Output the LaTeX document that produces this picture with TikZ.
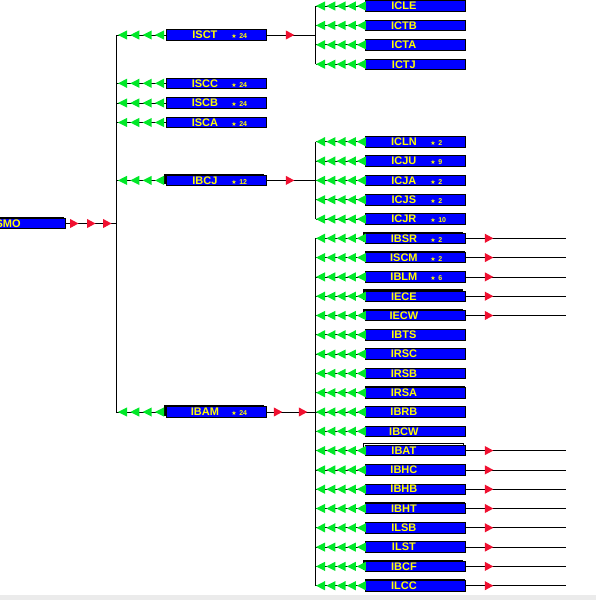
\documentclass[tikz,border=0pt]{standalone}
\usepackage{fontspec}
\setmainfont{Liberation Sans}
\newfontfamily\symfont{DejaVu Sans}
\usetikzlibrary{decorations.markings,shadows}
\definecolor{boxblue}{RGB}{0,0,255}
\definecolor{txtyellow}{RGB}{255,255,0}
\definecolor{arrgreen}{RGB}{0,232,40}
\definecolor{arrred}{RGB}{240,16,48}
\definecolor{bandgray}{RGB}{235,235,235}
\newcommand\gtri{\fill[arrgreen] (0pt,0pt) -- (9pt,4.6pt) -- (9pt,-4.6pt) -- cycle;}
\newcommand\rtri{\fill[arrred] (0pt,4.6pt) -- (8.5pt,0pt) -- (0pt,-4.6pt) -- cycle;}
\newcommand\st[1]{{\symfont\fontsize{6}{6}\selectfont ★}\hspace{2.5pt}{\fontsize{7}{7}\selectfont #1}}
\newcommand\bx[6][]{\node[box,#1] (#2) at (#3,#4) {\makebox[100pt][l]{\rlap{\hspace*{65pt}#6}\makebox[77pt]{#5}}};}
\tikzset{
  box/.style={draw=black, line width=0.8pt, fill=boxblue, inner sep=0pt, minimum height=10.5pt,
    text depth=0pt, text=txtyellow, font=\bfseries\fontsize{11}{11}\selectfont, anchor=west},
  plain/.style={},
  stk/.style={general shadow={fill=black, shadow xshift=-2pt, shadow yshift=1.5pt}},
  stkl/.style={general shadow={fill=black, shadow xshift=-0.5pt, shadow yshift=1pt}},
  hollow/.style={general shadow={fill=white, draw=black, line width=0.6pt, shadow xshift=-2pt, shadow yshift=2.5pt}},
  link/.style={draw=black, line width=0.8pt},
  green4/.style={link, postaction={decorate, decoration={markings,
    mark=at position 2pt with {\gtri}, mark=at position 14.3pt with {\gtri},
    mark=at position 26.7pt with {\gtri}, mark=at position 39pt with {\gtri}}}},
  green5/.style={link, postaction={decorate, decoration={markings,
    mark=at position 0.5pt with {\gtri}, mark=at position 10.8pt with {\gtri},
    mark=at position 21pt with {\gtri}, mark=at position 31.3pt with {\gtri},
    mark=at position 41.3pt with {\gtri}}}},
  red1/.style={link, postaction={decorate, decoration={markings,
    mark=at position 19pt with {\rtri}}}},
  red2/.style={link, postaction={decorate, decoration={markings,
    mark=at position 7pt with {\rtri}, mark=at position 32pt with {\rtri}}}},
  red3/.style={link, postaction={decorate, decoration={markings,
    mark=at position 4pt with {\rtri}, mark=at position 21pt with {\rtri},
    mark=at position 37pt with {\rtri}}}},
}
\begin{document}
\begin{tikzpicture}[x=1pt,y=-1pt]
\useasboundingbox (0,0) rectangle (596,600);
\clip (0,0) rectangle (596,600);
\fill[bandgray] (0,595) rectangle (596,600);
\coordinate (ta) at (116,0);
\coordinate (tb) at (315.5,0);
\coordinate (tc) at (566,0);
% root
\node[box,stk,anchor=east,minimum width=90pt] (root) at (66,223.5) {\makebox[90pt][l]{\hspace*{20pt}SMO}};
% level 1
\bx{isct}{166}{35}{ISCT}{\st{24}}
\bx{iscc}{166}{83.3}{ISCC}{\st{24}}
\bx{iscb}{166}{103}{ISCB}{\st{24}}
\bx{isca}{166}{122.5}{ISCA}{\st{24}}
\bx[stk]{ibcj}{166}{180.4}{IBCJ}{\st{12}}
\bx[stk]{ibam}{166}{412}{IBAM}{\st{24}}
% level 2 under ISCT
\foreach \n/\k/\t in {icle/0/ICLE, ictb/1/ICTB, icta/2/ICTA, ictj/3/ICTJ}
  \bx{\n}{365}{6+19.4*\k}{\t}{};
% level 2 under IBCJ
\foreach \n/\k/\t/\s in {icln/0/ICLN/2, icju/1/ICJU/9, icja/2/ICJA/2, icjs/3/ICJS/2, icjr/4/ICJR/10}
  \bx{\n}{365}{141.7+19.35*\k}{\t}{\st{\s}};
% level 2 under IBAM
\foreach \n/\k/\t/\y/\s in {ibsr/0/IBSR/stk/\st{2}, iscm/1/ISCM/stkl/\st{2}, iblm/2/IBLM/plain/\st{6},
   iece/3/IECE/stk/{}, iecw/4/IECW/stk/{}, ibts/5/IBTS/stkl/{}, irsc/6/IRSC/plain/{},
   irsb/7/IRSB/plain/{}, irsa/8/IRSA/stkl/{}, ibrb/9/IBRB/plain/{}, ibcw/10/IBCW/plain/{},
   ibat/11/IBAT/hollow/{}, ibhc/12/IBHC/stkl/{}, ibhb/13/IBHB/plain/{}, ibht/14/IBHT/stkl/{},
   ilsb/15/ILSB/stkl/{}, ilst/16/ILST/plain/{}, ibcf/17/IBCF/stk/{}, ilcc/18/ILCC/stkl/{}}
  \bx[\y]{\n}{365}{238.3+19.3*\k}{\t}{\s};
% connectors: root and level 1
\draw[red3] (root.east) -- (root.east -| ta);
\draw[link] (isct.west -| ta) -- (ibam.west -| ta);
\foreach \n in {isct,iscc,iscb,isca,ibcj,ibam}
  \draw[green4] (\n.west -| ta) -- (\n.west);
% ISCT branch
\draw[red1] (isct.east) -- (isct.east -| tb);
\draw[link] (icle.west -| tb) -- (ictj.west -| tb);
\foreach \n in {icle,ictb,icta,ictj}
  \draw[green5] (\n.west -| tb) -- (\n.west);
% IBCJ branch
\draw[red1] (ibcj.east) -- (ibcj.east -| tb);
\draw[link] (icln.west -| tb) -- (icjr.west -| tb);
\foreach \n in {icln,icju,icja,icjs,icjr}
  \draw[green5] (\n.west -| tb) -- (\n.west);
% IBAM branch
\draw[red2] (ibam.east) -- (ibam.east -| tb);
\draw[link] (ibsr.west -| tb) -- (ilcc.west -| tb);
\foreach \n in {ibsr,iscm,iblm,iece,iecw,ibts,irsc,irsb,irsa,ibrb,ibcw,ibat,ibhc,ibhb,ibht,ilsb,ilst,ibcf,ilcc}
  \draw[green5] (\n.west -| tb) -- (\n.west);
\foreach \n in {ibsr,iscm,iblm,iece,iecw,ibat,ibhc,ibhb,ibht,ilsb,ilst,ibcf,ilcc}
  \draw[red1] (\n.east) -- (\n.east -| tc);
\end{tikzpicture}
\end{document}
